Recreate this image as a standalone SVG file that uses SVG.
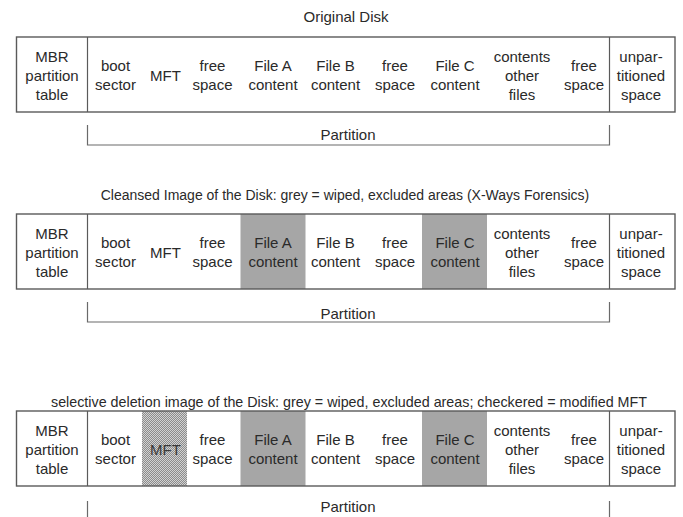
<svg xmlns="http://www.w3.org/2000/svg" width="683" height="517" viewBox="0 0 683 517">
<style>
  text { font-family: "Liberation Sans", Arial, sans-serif; font-size: 15px; fill: #2a2a2a; text-anchor: middle; }
  .frame { fill: none; stroke: #5a5a5a; stroke-width: 1.4; }
  .div { stroke: #5a5a5a; stroke-width: 1.2; }
  .grey { fill: #a6a6a6; }
  .chk { fill: url(#checker); }
  .bracket { fill: none; stroke: #6a6a6a; stroke-width: 1.2; }
</style>
<defs>
  <pattern id="checker" width="2" height="2" patternUnits="userSpaceOnUse">
    <rect width="2" height="2" fill="#d2d2d2"/>
    <rect width="1" height="1" fill="#8c8c8c"/>
    <rect x="1" y="1" width="1" height="1" fill="#8c8c8c"/>
  </pattern>
</defs>
<rect width="683" height="517" fill="#ffffff"/>

<g id="titles">
  <text x="346" y="22">Original Disk</text>
  <text x="345" y="200" style="font-size:14px">Cleansed Image of the Disk: grey = wiped, excluded areas (X-Ways Forensics)</text>
  <text x="349" y="407" style="font-size:14.3px">selective deletion image of the Disk: grey = wiped, excluded areas; checkered = modified MFT</text>
</g>

<!-- Row 1: Original Disk -->
<g id="original-disk" transform="translate(0,37)">
  <rect class="frame" x="16.5" y="0" width="658.5" height="75"/>
  <line class="div" x1="87.5" y1="0" x2="87.5" y2="75"/>
  <line class="div" x1="609.5" y1="0" x2="609.5" y2="75"/>
  <g id="r1-mbr"><text x="52" y="24.5">MBR</text><text x="52" y="43.5">partition</text><text x="52" y="62.5">table</text></g>
  <g id="r1-boot"><text x="115.5" y="34">boot</text><text x="115.5" y="52.5">sector</text></g>
  <g id="r1-mft"><text x="165.5" y="43.5">MFT</text></g>
  <g id="r1-free1"><text x="212.5" y="34">free</text><text x="212.5" y="52.5">space</text></g>
  <g id="r1-filea"><text x="273" y="34">File A</text><text x="273" y="52.5">content</text></g>
  <g id="r1-fileb"><text x="335.5" y="34">File B</text><text x="335.5" y="52.5">content</text></g>
  <g id="r1-free2"><text x="395" y="34">free</text><text x="395" y="52.5">space</text></g>
  <g id="r1-filec"><text x="455" y="34">File C</text><text x="455" y="52.5">content</text></g>
  <g id="r1-other"><text x="522" y="24.5">contents</text><text x="522" y="43.5">other</text><text x="522" y="62.5">files</text></g>
  <g id="r1-free3"><text x="584" y="34">free</text><text x="584" y="52.5">space</text></g>
  <g id="r1-unpart"><text x="641" y="24.5">unpar-</text><text x="641" y="43.5">titioned</text><text x="641" y="62.5">space</text></g>
</g>

<!-- Row 2: Cleansed Image -->
<g id="cleansed-image" transform="translate(0,214)">
  <rect class="grey" x="240.5" y="0" width="65" height="75"/>
  <rect class="grey" x="422" y="0" width="65" height="75"/>
  <rect class="frame" x="16.5" y="0" width="658.5" height="75"/>
  <line class="div" x1="87.5" y1="0" x2="87.5" y2="75"/>
  <line class="div" x1="609.5" y1="0" x2="609.5" y2="75"/>
  <g id="r2-mbr"><text x="52" y="24.5">MBR</text><text x="52" y="43.5">partition</text><text x="52" y="62.5">table</text></g>
  <g id="r2-boot"><text x="115.5" y="34">boot</text><text x="115.5" y="52.5">sector</text></g>
  <g id="r2-mft"><text x="165.5" y="43.5">MFT</text></g>
  <g id="r2-free1"><text x="212.5" y="34">free</text><text x="212.5" y="52.5">space</text></g>
  <g id="r2-filea"><text x="273" y="34">File A</text><text x="273" y="52.5">content</text></g>
  <g id="r2-fileb"><text x="335.5" y="34">File B</text><text x="335.5" y="52.5">content</text></g>
  <g id="r2-free2"><text x="395" y="34">free</text><text x="395" y="52.5">space</text></g>
  <g id="r2-filec"><text x="455" y="34">File C</text><text x="455" y="52.5">content</text></g>
  <g id="r2-other"><text x="522" y="24.5">contents</text><text x="522" y="43.5">other</text><text x="522" y="62.5">files</text></g>
  <g id="r2-free3"><text x="584" y="34">free</text><text x="584" y="52.5">space</text></g>
  <g id="r2-unpart"><text x="641" y="24.5">unpar-</text><text x="641" y="43.5">titioned</text><text x="641" y="62.5">space</text></g>
</g>

<!-- Row 3: selective deletion image -->
<g id="selective-deletion-image" transform="translate(0,411)">
  <rect class="chk" x="142" y="0" width="45" height="75"/>
  <rect class="grey" x="240.5" y="0" width="65" height="75"/>
  <rect class="grey" x="422" y="0" width="65" height="75"/>
  <rect class="frame" x="16.5" y="0" width="658.5" height="75"/>
  <line class="div" x1="87.5" y1="0" x2="87.5" y2="75"/>
  <line class="div" x1="609.5" y1="0" x2="609.5" y2="75"/>
  <g id="r3-mbr"><text x="52" y="24.5">MBR</text><text x="52" y="43.5">partition</text><text x="52" y="62.5">table</text></g>
  <g id="r3-boot"><text x="115.5" y="34">boot</text><text x="115.5" y="52.5">sector</text></g>
  <g id="r3-mft"><text x="165.5" y="43.5" style="fill:#3a3a3a">MFT</text></g>
  <g id="r3-free1"><text x="212.5" y="34">free</text><text x="212.5" y="52.5">space</text></g>
  <g id="r3-filea"><text x="273" y="34">File A</text><text x="273" y="52.5">content</text></g>
  <g id="r3-fileb"><text x="335.5" y="34">File B</text><text x="335.5" y="52.5">content</text></g>
  <g id="r3-free2"><text x="395" y="34">free</text><text x="395" y="52.5">space</text></g>
  <g id="r3-filec"><text x="455" y="34">File C</text><text x="455" y="52.5">content</text></g>
  <g id="r3-other"><text x="522" y="24.5">contents</text><text x="522" y="43.5">other</text><text x="522" y="62.5">files</text></g>
  <g id="r3-free3"><text x="584" y="34">free</text><text x="584" y="52.5">space</text></g>
  <g id="r3-unpart"><text x="641" y="24.5">unpar-</text><text x="641" y="43.5">titioned</text><text x="641" y="62.5">space</text></g>
</g>

<!-- Partition brackets -->
<g id="connectors">
  <path class="bracket" d="M87.5,125 V145 H609.5 V125"/>
  <path class="bracket" d="M87.5,302 V322 H609.5 V302"/>
  <path class="bracket" d="M87.5,501 V521 H609.5 V501"/>
</g>
<g id="partition-labels">
  <text x="348" y="140">Partition</text>
  <text x="348" y="319">Partition</text>
  <text x="348" y="512">Partition</text>
</g>
</svg>
